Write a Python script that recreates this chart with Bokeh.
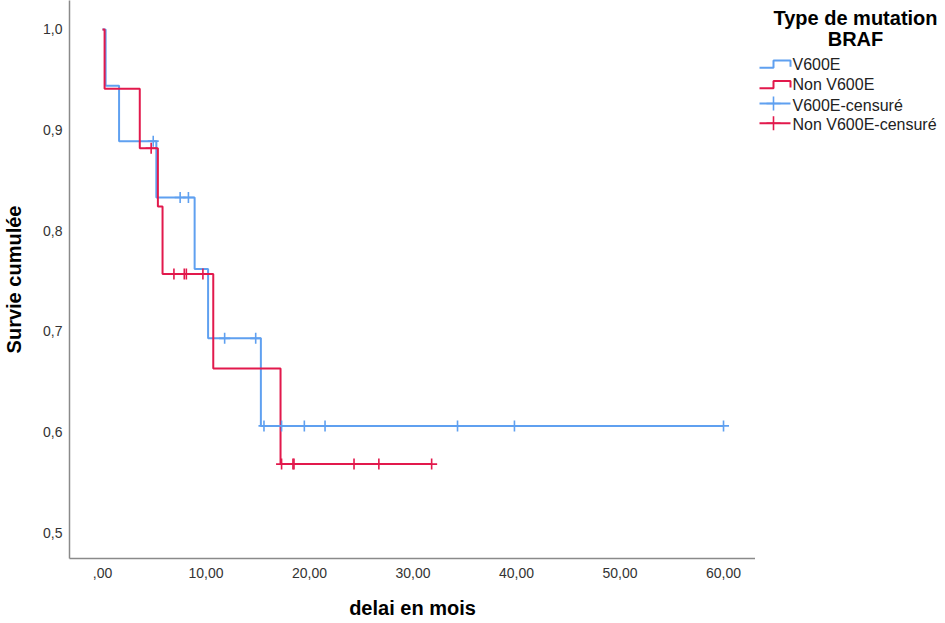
import numpy as np
from bokeh.plotting import figure
from bokeh.layouts import row
from bokeh.models import Range1d, FixedTicker
from bokeh.core.properties import value
from bokeh.embed import file_html
from bokeh.resources import INLINE

# ---- data ----
blue_times = [0.0, 0.3, 1.6, 5.2, 8.9, 10.2, 15.3, 60.0]
blue_surv = [1.0, 0.944, 0.889, 0.833, 0.762, 0.693, 0.606, 0.606]
red_times = [0.0, 0.2, 3.6, 5.35, 5.8, 10.7, 17.2, 31.8]
red_surv = [1.0, 0.941, 0.882, 0.824, 0.757, 0.663, 0.568, 0.568]
blue_censored = [4.9, 7.5, 8.3, 11.8, 14.8, 15.6, 17.3, 19.5, 21.5, 34.3, 39.8, 60.0]
red_censored = [4.7, 6.9, 7.9, 8.1, 9.7, 17.3, 18.4, 18.5, 24.3, 26.7, 31.8]

series_labels = ["V600E", "Non V600E", "V600E-censuré", "Non V600E-censuré"]
legend_title_lines = ["Type de mutation", "BRAF"]
x_label = "delai en mois"
y_label = "Survie cumulée"

x_ticks = [0, 10, 20, 30, 40, 50, 60]
x_tick_labels = [",00", "10,00", "20,00", "30,00", "40,00", "50,00", "60,00"]
y_ticks = [0.5, 0.6, 0.7, 0.8, 0.9, 1.0]
y_tick_labels = ["0,5", "0,6", "0,7", "0,8", "0,9", "1,0"]

BLUE = "#5FA0F0"
RED = "#E2194C"
FONT = "Liberation Sans"


def surv_at(times, surv, t):
    idx = np.searchsorted(np.asarray(times), np.asarray(t), side="right") - 1
    return np.asarray(surv)[idx]


# ---------------- main chart ----------------
p = figure(width=755, height=623, output_backend="svg", toolbar_location=None,
           x_range=Range1d(-3.19, 63.09), y_range=Range1d(0.4742, 1.0288),
           min_border_left=69, min_border_right=0, min_border_top=0,
           min_border_bottom=65)
p.outline_line_color = None
p.grid.visible = False

p.step(blue_times, blue_surv, mode="after", line_color=BLUE, line_width=2)
p.step(red_times, red_surv, mode="after", line_color=RED, line_width=2)
p.scatter(blue_censored, surv_at(blue_times, blue_surv, blue_censored),
          marker="cross", size=11, line_color=BLUE, line_width=1.6)
p.scatter(red_censored, surv_at(red_times, red_surv, red_censored),
          marker="cross", size=11, line_color=RED, line_width=1.6)

for ax, ticks, labels in ((p.xaxis[0], x_ticks, x_tick_labels),
                          (p.yaxis[0], y_ticks, y_tick_labels)):
    ax.ticker = FixedTicker(ticks=ticks)
    ax.major_label_overrides = {t: l for t, l in zip(ticks, labels)}
    ax.axis_line_color = "#8a8a8a"
    ax.axis_line_width = 1.5
    ax.major_tick_line_color = None
    ax.minor_tick_line_color = None
    ax.major_tick_out = 0
    ax.major_tick_in = 0
    ax.major_label_text_font = FONT
    ax.major_label_text_font_size = "14px"
    ax.major_label_text_color = "#333333"
    ax.axis_label_text_font = FONT
    ax.axis_label_text_font_style = "bold"
    ax.axis_label_text_font_size = "20px"
    ax.axis_label_text_color = "#000000"

p.xaxis.axis_label = x_label
p.yaxis.axis_label = y_label
p.xaxis.major_label_standoff = 9
p.xaxis.axis_label_standoff = 16
p.yaxis.major_label_standoff = 7
p.yaxis.axis_label_standoff = 15

# ---------------- legend panel (pixel coordinates) ----------------
LX0, LW, H = 755, 190, 623
lg = figure(width=LW, height=H, output_backend="svg", toolbar_location=None,
            x_range=Range1d(LX0, LX0 + LW), y_range=Range1d(H, 0),
            min_border=0)
lg.axis.visible = False
lg.grid.visible = False
lg.outline_line_color = None

title_cx = 855
lg.text(x=[title_cx] * len(legend_title_lines), y=[20, 43],
        text=legend_title_lines, text_font=value(FONT), text_font_style="bold",
        text_font_size="20px", text_align="center", text_baseline="middle",
        text_color="#000000")

item_y = [71, 94, 117, 139]
gx0, gxm, gx1 = 759, 773, 790
lg.text(x=[792] * 4, y=item_y, text=series_labels, text_font=value(FONT),
        text_font_size="16px", text_align="left", text_baseline="middle",
        text_color="#222222")

colors = [BLUE, RED, BLUE, RED]
for i, (cy, c) in enumerate(zip(item_y, colors)):
    if i < 2:
        lg.line([gx0, gxm, gxm, gx1, gx1], [cy + 4, cy + 4, cy - 4, cy - 4, cy + 3],
                line_color=c, line_width=2)
    else:
        ly = cy - 2
        lg.line([gx0, gx1], [ly, ly], line_color=c, line_width=2)
        lg.scatter([gxm], [ly], marker="cross", size=14, line_color=c, line_width=1.6)

layout = row(p, lg)
open("out.html", "w").write(file_html(layout, INLINE))
